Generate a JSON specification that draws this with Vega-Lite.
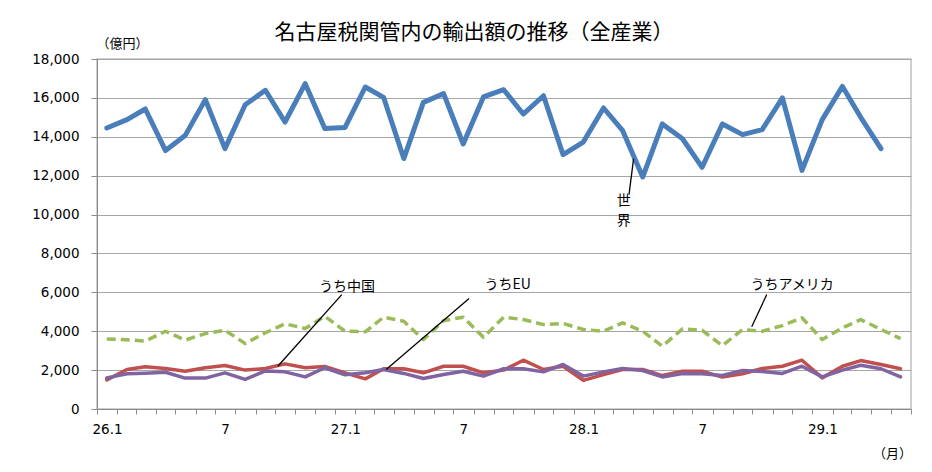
{
  "$schema": "https://vega.github.io/schema/vega-lite/v6.json",
  "autosize": "none",
  "width": 814,
  "height": 350,
  "padding": {"left": 97, "top": 59, "right": 21, "bottom": 63},
  "background": "white",
  "title": {
    "text": "名古屋税関管内の輸出額の推移（全産業）",
    "font": "Noto Sans CJK JP",
    "fontSize": 21,
    "fontWeight": "normal",
    "color": "#000000",
    "anchor": "middle",
    "frame": "group",
    "baseline": "alphabetic",
    "offset": 19,
    "dx": -30,
    "dy": 42
  },
  "config": {
    "view": {"stroke": "#c0c0c0", "strokeWidth": 1.5},
    "axis": {
      "labelFont": "DejaVu Sans",
      "labelFontSize": 13.5,
      "labelColor": "#000000",
      "titleFont": "Noto Sans CJK JP",
      "titleFontWeight": "normal",
      "titleFontSize": 13,
      "titleColor": "#000000",
      "domainColor": "#8c8c8c",
      "tickColor": "#8c8c8c",
      "gridColor": "#a6a6a6",
      "gridWidth": 1
    }
  },
  "data": {
    "values": [
      {"month": "2014-01-16", "world": 14450, "usa": 3600, "china": 1500, "eu": 1600},
      {"month": "2014-02-16", "world": 14880, "usa": 3560, "china": 2030, "eu": 1810},
      {"month": "2014-03-16", "world": 15430, "usa": 3490, "china": 2170, "eu": 1840},
      {"month": "2014-04-16", "world": 13290, "usa": 4000, "china": 2080, "eu": 1890},
      {"month": "2014-05-16", "world": 14060, "usa": 3540, "china": 1940, "eu": 1590},
      {"month": "2014-06-16", "world": 15910, "usa": 3880, "china": 2120, "eu": 1590},
      {"month": "2014-07-16", "world": 13390, "usa": 4050, "china": 2240, "eu": 1860},
      {"month": "2014-08-16", "world": 15650, "usa": 3370, "china": 2000, "eu": 1520},
      {"month": "2014-09-16", "world": 16390, "usa": 3920, "china": 2080, "eu": 1960},
      {"month": "2014-10-16", "world": 14760, "usa": 4380, "china": 2320, "eu": 1910},
      {"month": "2014-11-16", "world": 16730, "usa": 4140, "china": 2120, "eu": 1650},
      {"month": "2014-12-16", "world": 14420, "usa": 4770, "china": 2190, "eu": 2120},
      {"month": "2015-01-16", "world": 14480, "usa": 4000, "china": 1860, "eu": 1760},
      {"month": "2015-02-16", "world": 16560, "usa": 3970, "china": 1550, "eu": 1860},
      {"month": "2015-03-16", "world": 16030, "usa": 4720, "china": 2070, "eu": 2030},
      {"month": "2015-04-16", "world": 12880, "usa": 4510, "china": 2070, "eu": 1830},
      {"month": "2015-05-16", "world": 15770, "usa": 3570, "china": 1860, "eu": 1570},
      {"month": "2015-06-16", "world": 16220, "usa": 4550, "china": 2200, "eu": 1770},
      {"month": "2015-07-16", "world": 13630, "usa": 4720, "china": 2200, "eu": 1940},
      {"month": "2015-08-16", "world": 16050, "usa": 3690, "china": 1860, "eu": 1690},
      {"month": "2015-09-16", "world": 16420, "usa": 4720, "china": 2000, "eu": 2070},
      {"month": "2015-10-16", "world": 15170, "usa": 4600, "china": 2510, "eu": 2070},
      {"month": "2015-11-16", "world": 16110, "usa": 4340, "china": 2030, "eu": 1910},
      {"month": "2015-12-16", "world": 13080, "usa": 4400, "china": 2200, "eu": 2290},
      {"month": "2016-01-16", "world": 13730, "usa": 4090, "china": 1470, "eu": 1690},
      {"month": "2016-02-16", "world": 15480, "usa": 4000, "china": 1770, "eu": 1910},
      {"month": "2016-03-16", "world": 14330, "usa": 4430, "china": 2030, "eu": 2080},
      {"month": "2016-04-16", "world": 11930, "usa": 4000, "china": 2030, "eu": 1980},
      {"month": "2016-05-16", "world": 14660, "usa": 3230, "china": 1720, "eu": 1650},
      {"month": "2016-06-16", "world": 13900, "usa": 4120, "china": 1940, "eu": 1830},
      {"month": "2016-07-16", "world": 12430, "usa": 4050, "china": 1940, "eu": 1810},
      {"month": "2016-08-16", "world": 14660, "usa": 3260, "china": 1640, "eu": 1720},
      {"month": "2016-09-16", "world": 14110, "usa": 4090, "china": 1810, "eu": 1980},
      {"month": "2016-10-16", "world": 14370, "usa": 4000, "china": 2080, "eu": 1930},
      {"month": "2016-11-16", "world": 16000, "usa": 4290, "china": 2200, "eu": 1830},
      {"month": "2016-12-16", "world": 12270, "usa": 4690, "china": 2510, "eu": 2200},
      {"month": "2017-01-16", "world": 14880, "usa": 3570, "china": 1600, "eu": 1650},
      {"month": "2017-02-16", "world": 16590, "usa": 4170, "china": 2200, "eu": 2000},
      {"month": "2017-03-16", "world": 15000, "usa": 4600, "china": 2490, "eu": 2250},
      {"month": "2017-04-16", "world": 13390, "usa": 4090, "china": 2290, "eu": 2070},
      {"month": "2017-05-16", "usa": 3620, "china": 2070, "eu": 1650}
    ]
  },
  "encoding": {
    "x": {
      "field": "month",
      "type": "temporal",
      "scale": {
        "type": "utc",
        "domain": [
          {"year": 2014, "month": 1, "date": 1, "utc": true},
          {"year": 2017, "month": 6, "date": 1, "utc": true}
        ],
        "nice": false
      },
      "axis": {
        "title": "（月）",
        "titleAngle": 0,
        "titleX": 795,
        "titleY": 44,
        "titleAlign": "center",
        "titleBaseline": "middle",
        "tickCount": {"interval": "month", "step": 1},
        "labelExpr": "utcmonth(datum.value) == 0 ? (utcyear(datum.value) - 1988) + '.1' : (utcmonth(datum.value) == 6 ? '7' : '')",
        "labelOffset": 10,
        "labelAlign": "center",
        "labelFlush": false,
        "labelBound": false,
        "labelOverlap": false,
        "labelPadding": 8,
        "tickSize": 5,
        "grid": false
      }
    },
    "y": {
      "type": "quantitative",
      "scale": {"domain": [0, 18000], "nice": false, "zero": true},
      "axis": {
        "title": "（億円）",
        "titleAngle": 0,
        "titleX": 25,
        "titleY": -16,
        "titleAlign": "center",
        "titleBaseline": "middle",
        "values": [0, 2000, 4000, 6000, 8000, 10000, 12000, 14000, 16000, 18000],
        "format": ",d",
        "tickSize": 6,
        "labelPadding": 12,
        "grid": true
      }
    }
  },
  "layer": [
    {
      "mark": {"type": "line", "color": "#4a7ebb", "strokeWidth": 5, "strokeJoin": "round", "strokeCap": "round"},
      "encoding": {"y": {"field": "world", "type": "quantitative"}}
    },
    {
      "mark": {"type": "line", "color": "#9bbb59", "strokeWidth": 3.5, "strokeDash": [9, 5], "strokeJoin": "round"},
      "encoding": {"y": {"field": "usa", "type": "quantitative"}}
    },
    {
      "mark": {"type": "line", "color": "#c0504d", "strokeWidth": 3.5, "strokeJoin": "round", "strokeCap": "round"},
      "encoding": {"y": {"field": "china", "type": "quantitative"}}
    },
    {
      "mark": {"type": "line", "color": "#8064a2", "strokeWidth": 3.5, "strokeJoin": "round", "strokeCap": "round"},
      "encoding": {"y": {"field": "eu", "type": "quantitative"}}
    },
    {
      "data": {
        "values": [
          {"xa": "2016-04-02", "ya": 12860, "xb": "2016-03-26", "yb": 11025},
          {"xa": "2015-01-11", "ya": 5885, "xb": "2014-10-05", "yb": 2200},
          {"xa": "2015-07-25", "ya": 5680, "xb": "2015-03-20", "yb": 2030},
          {"xa": "2016-10-23", "ya": 5885, "xb": "2016-09-30", "yb": 4225}
        ]
      },
      "mark": {"type": "rule", "color": "#000000", "strokeWidth": 1.3},
      "encoding": {
        "x": {"field": "xa", "type": "temporal"},
        "x2": {"field": "xb"},
        "y": {"field": "ya", "type": "quantitative"},
        "y2": {"field": "yb"}
      }
    },
    {
      "data": {
        "values": [
          {"xd": "2016-03-18", "yv": 10700, "label": "世"},
          {"xd": "2016-03-18", "yv": 9650, "label": "界"},
          {"xd": "2015-01-19", "yv": 6280, "label": "うち中国"},
          {"xd": "2015-09-22", "yv": 6360, "label": "うちEU"},
          {"xd": "2016-12-01", "yv": 6400, "label": "うちアメリカ"}
        ]
      },
      "mark": {"type": "text", "font": "Noto Sans CJK JP", "fontSize": 14, "color": "#000000", "align": "center", "baseline": "middle"},
      "encoding": {
        "x": {"field": "xd", "type": "temporal"},
        "y": {"field": "yv", "type": "quantitative"},
        "text": {"field": "label"}
      }
    }
  ]
}
